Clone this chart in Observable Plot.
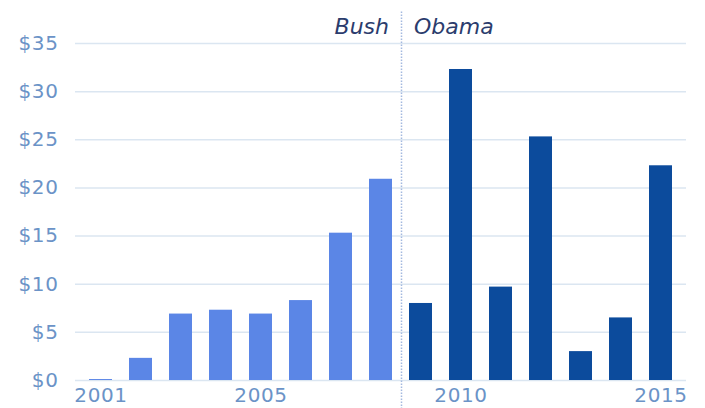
<!DOCTYPE html>
<html>
<head>
<meta charset="utf-8">
<script src="https://cdn.jsdelivr.net/npm/d3@7"></script>
<script src="https://cdn.jsdelivr.net/npm/@observablehq/plot@0.6"></script>
<style>
  html, body { margin: 0; padding: 0; background: #fff; }
  #chart { width: 705px; height: 408px; }
  .ticks text { letter-spacing: 0.6px; }
</style>
</head>
<body>
<div id="chart"></div>
<script>
const years = [2001, 2002, 2003, 2004, 2005, 2006, 2007, 2008, 2009, 2010, 2011, 2012, 2013, 2014, 2015];
const values = [0.1, 2.3, 6.9, 7.3, 6.9, 8.3, 15.3, 20.9, 8.0, 32.3, 9.7, 25.3, 3.0, 6.5, 22.3];
const presidents = ["Bush", "Bush", "Bush", "Bush", "Bush", "Bush", "Bush", "Bush", "Obama", "Obama", "Obama", "Obama", "Obama", "Obama", "Obama"];
const yTicks = [0, 5, 10, 15, 20, 25, 30, 35];
const xTicks = [2001, 2005, 2010, 2015];
const labels = [{year: 2008, text: "Bush"}, {year: 2009, text: "Obama"}];

const data = years.map((y, i) => ({year: y, value: values[i], president: presidents[i]}));

const font = "'DejaVu Sans', sans-serif";
const chart = Plot.plot({
  width: 705,
  height: 408,
  marginLeft: 75,
  marginRight: 19,
  marginTop: 43,
  marginBottom: 28,
  style: {fontFamily: font, fontSize: "20px", background: "#fff", overflow: "visible"},
  x: {type: "band", domain: years, paddingInner: 0.435, paddingOuter: 0.22, label: null},
  y: {domain: [0, 35], label: null},
  color: {domain: ["Bush", "Obama"], range: ["#5b86e6", "#0c4b9c"]},
  marks: [
    Plot.ruleY(yTicks, {stroke: "#dbe6f1", strokeWidth: 1.5}),
    Plot.axisY({ticks: yTicks, tickSize: 0, tickPadding: 17, tickFormat: d => "$" + d, fill: "#6b93c7", fontSize: 20, label: null, className: "ticks"}),
    Plot.axisX({ticks: xTicks, tickSize: 0, tickPadding: 7, tickFormat: d => String(d), fill: "#6b93c7", fontSize: 20, label: null, className: "ticks"}),
    Plot.barY(data, {x: "year", y: "value", fill: "president"}),
    Plot.ruleX([2008], {x: d => d, dx: 20.5, y1: -3, y2: 38.4, stroke: "#a3b9df", strokeWidth: 1.5, strokeDasharray: "1.5,1.5"}),
    Plot.text(labels.slice(0, 1), {x: "year", text: "text", y: 36.75, dx: 8, textAnchor: "end", fill: "#2b3c6d", fontStyle: "italic", fontSize: 22}),
    Plot.text(labels.slice(1), {x: "year", text: "text", y: 36.75, dx: -7, textAnchor: "start", fill: "#2b3c6d", fontStyle: "italic", fontSize: 22})
  ]
});
document.getElementById("chart").appendChild(chart);
</script>
</body>
</html>
